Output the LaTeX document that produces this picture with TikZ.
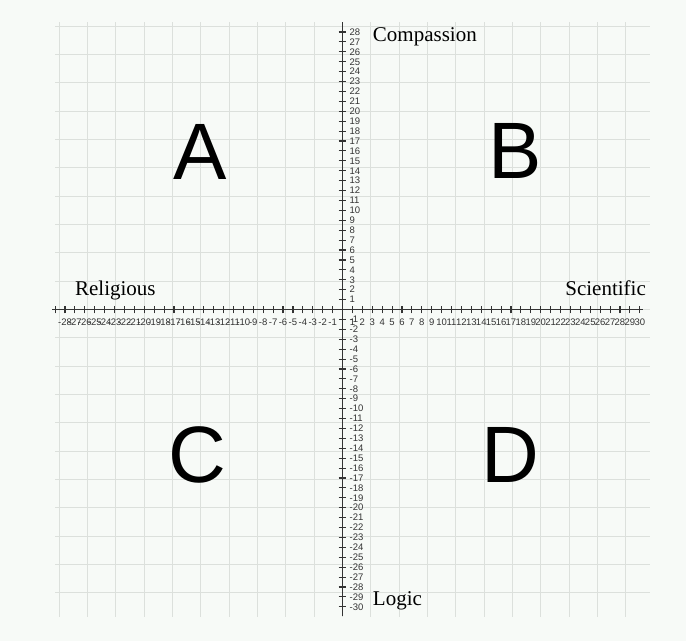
\documentclass[tikz,border=0pt]{standalone}
\usepackage{fontspec}
\setmainfont{Liberation Serif}
\setsansfont{Liberation Sans}
\definecolor{PaperTint}{HTML}{F7FAF7}
\definecolor{GridGray}{HTML}{DCE0DC}
\definecolor{AxisGray}{HTML}{333333}

\begin{document}
\begin{tikzpicture}[x=9.91bp, y=9.91bp,
    tick/.style={AxisGray, line width=1.1bp},
    ticklabel/.style={inner sep=0pt, text=AxisGray, font=\sffamily\fontsize{9.5bp}{9.5bp}\selectfont},
    axislabel/.style={inner sep=0pt, font=\fontsize{21bp}{21bp}\selectfont},
    quadrant/.style={inner sep=0pt, font=\sffamily\fontsize{80bp}{80bp}\selectfont}]
  \useasboundingbox[fill=PaperTint] (-34.56,-33.45) rectangle (34.66,31.23);
  % Lưới nền
  \draw[GridGray, line width=1bp] (-29,-31) grid (31,29);
  % Trục
  \draw[AxisGray, line width=1.6bp] (-29.3,0) -- (30.3,0);
  \draw[AxisGray, line width=1.6bp] (0,29) -- (0,-30.9);
  \foreach \i in {-29,...,30} \draw[tick] (\i,-0.4) -- (\i,0.4);
  \foreach \j in {-30,...,28} \draw[tick] (-0.4,\j) -- (0.4,\j);
  % Số trên trục
  \foreach \i in {-28,...,30} {\ifnum\i=0\else
    \node[ticklabel] (xl\i) at (\i,-1.3) {\i};\fi}
  \foreach \j in {-30,...,28} {\ifnum\j=0\else
    \node[ticklabel, anchor=west] (yl\j) at (0.7,\j) {\j};\fi}
  % Nhãn trục
  \node[axislabel, anchor=base west] (compassion) at (3.05,27.02) {Compassion};
  \node[axislabel, anchor=base west] (religious) at (-27.0,1.46) {Religious};
  \node[axislabel, anchor=base east] (scientific) at (30.63,1.46) {Scientific};
  \node[axislabel, anchor=base west] (logic) at (3.05,-29.82) {Logic};
  % Bốn góc phần tư
  \node[quadrant] (A) at (-14.38,15.94) {A};
  \node[quadrant] (B) at (17.41,15.99) {B};
  \node[quadrant] (C) at (-14.68,-14.68) {C};
  \node[quadrant] (D) at (16.9,-14.68) {D};
\end{tikzpicture}
\end{document}
